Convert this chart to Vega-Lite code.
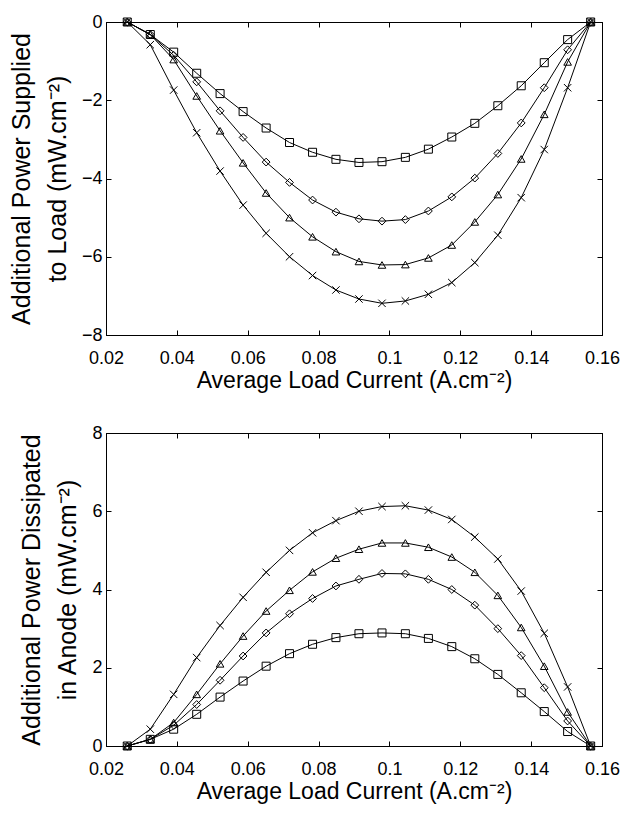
{
  "$schema": "https://vega.github.io/schema/vega-lite/v6.json",
  "padding": {"left": 8, "top": 12, "right": 5, "bottom": 5},
  "background": "white",
  "bounds": "flush",
  "spacing": 98,
  "config": {
    "font": "Liberation Sans",
    "view": {"stroke": "black", "strokeWidth": 1},
    "axis": {
      "labelFont": "Liberation Sans", "labelFontSize": 18, "labelColor": "black",
      "titleFont": "Liberation Sans", "titleFontWeight": "normal", "titleColor": "black",
      "tickColor": "black", "domainColor": "black", "grid": false,
      "tickSize": -5, "labelPadding": 19, "labelFlush": false, "labelOverlap": false
    },
    "axisY": {"labelPadding": 9}
  },
  "datasets": {
    "top": [
      {"s":"sq","x":0.0260,"y":0},{"s":"sq","x":0.0325,"y":-0.32},{"s":"sq","x":0.0391,"y":-0.77},{"s":"sq","x":0.0456,"y":-1.31},{"s":"sq","x":0.0522,"y":-1.83},{"s":"sq","x":0.0587,"y":-2.29},{"s":"sq","x":0.0652,"y":-2.71},{"s":"sq","x":0.0718,"y":-3.08},{"s":"sq","x":0.0783,"y":-3.33},{"s":"sq","x":0.0849,"y":-3.51},{"s":"sq","x":0.0914,"y":-3.59},{"s":"sq","x":0.0979,"y":-3.57},{"s":"sq","x":0.1045,"y":-3.46},{"s":"sq","x":0.1110,"y":-3.25},{"s":"sq","x":0.1176,"y":-2.94},{"s":"sq","x":0.1241,"y":-2.59},{"s":"sq","x":0.1306,"y":-2.14},{"s":"sq","x":0.1372,"y":-1.63},{"s":"sq","x":0.1437,"y":-1.04},{"s":"sq","x":0.1503,"y":-0.45},{"s":"sq","x":0.1568,"y":0},
      {"s":"di","x":0.0260,"y":0},{"s":"di","x":0.0325,"y":-0.32},{"s":"di","x":0.0391,"y":-0.85},{"s":"di","x":0.0456,"y":-1.53},{"s":"di","x":0.0522,"y":-2.27},{"s":"di","x":0.0587,"y":-2.95},{"s":"di","x":0.0652,"y":-3.58},{"s":"di","x":0.0718,"y":-4.10},{"s":"di","x":0.0783,"y":-4.55},{"s":"di","x":0.0849,"y":-4.86},{"s":"di","x":0.0914,"y":-5.03},{"s":"di","x":0.0979,"y":-5.09},{"s":"di","x":0.1045,"y":-5.05},{"s":"di","x":0.1110,"y":-4.83},{"s":"di","x":0.1176,"y":-4.47},{"s":"di","x":0.1241,"y":-3.99},{"s":"di","x":0.1306,"y":-3.36},{"s":"di","x":0.1372,"y":-2.58},{"s":"di","x":0.1437,"y":-1.68},{"s":"di","x":0.1503,"y":-0.71},{"s":"di","x":0.1568,"y":0},
      {"s":"tr","x":0.0260,"y":0},{"s":"tr","x":0.0325,"y":-0.32},{"s":"tr","x":0.0391,"y":-0.96},{"s":"tr","x":0.0456,"y":-1.89},{"s":"tr","x":0.0522,"y":-2.78},{"s":"tr","x":0.0587,"y":-3.60},{"s":"tr","x":0.0652,"y":-4.37},{"s":"tr","x":0.0718,"y":-5.00},{"s":"tr","x":0.0783,"y":-5.49},{"s":"tr","x":0.0849,"y":-5.87},{"s":"tr","x":0.0914,"y":-6.12},{"s":"tr","x":0.0979,"y":-6.21},{"s":"tr","x":0.1045,"y":-6.20},{"s":"tr","x":0.1110,"y":-6.03},{"s":"tr","x":0.1176,"y":-5.70},{"s":"tr","x":0.1241,"y":-5.11},{"s":"tr","x":0.1306,"y":-4.41},{"s":"tr","x":0.1372,"y":-3.50},{"s":"tr","x":0.1437,"y":-2.36},{"s":"tr","x":0.1503,"y":-1.02},{"s":"tr","x":0.1568,"y":0},
      {"s":"xx","x":0.0260,"y":0},{"s":"xx","x":0.0325,"y":-0.58},{"s":"xx","x":0.0391,"y":-1.74},{"s":"xx","x":0.0456,"y":-2.83},{"s":"xx","x":0.0522,"y":-3.81},{"s":"xx","x":0.0587,"y":-4.68},{"s":"xx","x":0.0652,"y":-5.40},{"s":"xx","x":0.0718,"y":-6.00},{"s":"xx","x":0.0783,"y":-6.48},{"s":"xx","x":0.0849,"y":-6.85},{"s":"xx","x":0.0914,"y":-7.08},{"s":"xx","x":0.0979,"y":-7.19},{"s":"xx","x":0.1045,"y":-7.13},{"s":"xx","x":0.1110,"y":-6.96},{"s":"xx","x":0.1176,"y":-6.66},{"s":"xx","x":0.1241,"y":-6.15},{"s":"xx","x":0.1306,"y":-5.45},{"s":"xx","x":0.1372,"y":-4.49},{"s":"xx","x":0.1437,"y":-3.26},{"s":"xx","x":0.1503,"y":-1.68},{"s":"xx","x":0.1568,"y":0}
    ],
    "bottom": [
      {"s":"sq","x":0.0260,"y":0},{"s":"sq","x":0.0325,"y":0.17},{"s":"sq","x":0.0391,"y":0.43},{"s":"sq","x":0.0456,"y":0.81},{"s":"sq","x":0.0522,"y":1.25},{"s":"sq","x":0.0587,"y":1.66},{"s":"sq","x":0.0652,"y":2.04},{"s":"sq","x":0.0718,"y":2.36},{"s":"sq","x":0.0783,"y":2.60},{"s":"sq","x":0.0849,"y":2.77},{"s":"sq","x":0.0914,"y":2.87},{"s":"sq","x":0.0979,"y":2.89},{"s":"sq","x":0.1045,"y":2.87},{"s":"sq","x":0.1110,"y":2.75},{"s":"sq","x":0.1176,"y":2.54},{"s":"sq","x":0.1241,"y":2.23},{"s":"sq","x":0.1306,"y":1.83},{"s":"sq","x":0.1372,"y":1.36},{"s":"sq","x":0.1437,"y":0.88},{"s":"sq","x":0.1503,"y":0.37},{"s":"sq","x":0.1568,"y":0},
      {"s":"di","x":0.0260,"y":0},{"s":"di","x":0.0325,"y":0.17},{"s":"di","x":0.0391,"y":0.53},{"s":"di","x":0.0456,"y":1.06},{"s":"di","x":0.0522,"y":1.68},{"s":"di","x":0.0587,"y":2.30},{"s":"di","x":0.0652,"y":2.89},{"s":"di","x":0.0718,"y":3.38},{"s":"di","x":0.0783,"y":3.77},{"s":"di","x":0.0849,"y":4.09},{"s":"di","x":0.0914,"y":4.26},{"s":"di","x":0.0979,"y":4.41},{"s":"di","x":0.1045,"y":4.40},{"s":"di","x":0.1110,"y":4.26},{"s":"di","x":0.1176,"y":4.00},{"s":"di","x":0.1241,"y":3.60},{"s":"di","x":0.1306,"y":3.00},{"s":"di","x":0.1372,"y":2.31},{"s":"di","x":0.1437,"y":1.49},{"s":"di","x":0.1503,"y":0.64},{"s":"di","x":0.1568,"y":0},
      {"s":"tr","x":0.0260,"y":0},{"s":"tr","x":0.0325,"y":0.17},{"s":"tr","x":0.0391,"y":0.60},{"s":"tr","x":0.0456,"y":1.32},{"s":"tr","x":0.0522,"y":2.10},{"s":"tr","x":0.0587,"y":2.81},{"s":"tr","x":0.0652,"y":3.45},{"s":"tr","x":0.0718,"y":3.98},{"s":"tr","x":0.0783,"y":4.45},{"s":"tr","x":0.0849,"y":4.80},{"s":"tr","x":0.0914,"y":5.03},{"s":"tr","x":0.0979,"y":5.19},{"s":"tr","x":0.1045,"y":5.19},{"s":"tr","x":0.1110,"y":5.08},{"s":"tr","x":0.1176,"y":4.83},{"s":"tr","x":0.1241,"y":4.44},{"s":"tr","x":0.1306,"y":3.85},{"s":"tr","x":0.1372,"y":3.03},{"s":"tr","x":0.1437,"y":2.04},{"s":"tr","x":0.1503,"y":0.87},{"s":"tr","x":0.1568,"y":0},
      {"s":"xx","x":0.0260,"y":0},{"s":"xx","x":0.0325,"y":0.43},{"s":"xx","x":0.0391,"y":1.32},{"s":"xx","x":0.0456,"y":2.26},{"s":"xx","x":0.0522,"y":3.08},{"s":"xx","x":0.0587,"y":3.80},{"s":"xx","x":0.0652,"y":4.44},{"s":"xx","x":0.0718,"y":5.00},{"s":"xx","x":0.0783,"y":5.45},{"s":"xx","x":0.0849,"y":5.76},{"s":"xx","x":0.0914,"y":6.00},{"s":"xx","x":0.0979,"y":6.12},{"s":"xx","x":0.1045,"y":6.14},{"s":"xx","x":0.1110,"y":6.03},{"s":"xx","x":0.1176,"y":5.79},{"s":"xx","x":0.1241,"y":5.34},{"s":"xx","x":0.1306,"y":4.78},{"s":"xx","x":0.1372,"y":3.96},{"s":"xx","x":0.1437,"y":2.88},{"s":"xx","x":0.1503,"y":1.51},{"s":"xx","x":0.1568,"y":0}
    ]
  },
  "vconcat": [
    {
      "width": 496, "height": 313,
      "data": {"name": "top"},
      "resolve": {"axis": {"x": "independent", "y": "independent"}},
      "layer": [
        {
          "mark": {"type": "line", "color": "black", "strokeWidth": 1},
          "encoding": {
            "x": {"field": "x", "type": "quantitative", "scale": {"domain": [0.02, 0.16], "nice": false, "zero": false},
                  "axis": {"values": [0.02,0.04,0.06,0.08,0.1,0.12,0.14,0.16], "format": "~g", "title": "Average Load Current (A.cm⁻²)", "titleFontSize": 23, "titlePadding": 2}},
            "y": {"field": "y", "type": "quantitative", "scale": {"domain": [-8, 0], "nice": false, "zero": false},
                  "axis": {"values": [-8,-6,-4,-2,0], "format": "~g", "title": ["Additional Power Supplied", "to Load (mW.cm⁻²)"], "titleFontSize": 25, "titleLineHeight": 36, "titlePadding": 11}},
            "detail": {"field": "s"}
          }
        },
        {
          "mark": {"type": "point", "filled": false, "color": "black", "strokeWidth": 1, "opacity": 1},
          "encoding": {
            "x": {"field": "x", "type": "quantitative", "axis": {"orient": "top", "values": [0.02,0.04,0.06,0.08,0.1,0.12,0.14,0.16], "labels": false, "title": null}},
            "y": {"field": "y", "type": "quantitative", "axis": {"orient": "right", "values": [-8,-6,-4,-2,0], "labels": false, "title": null}},
            "shape": {"field": "s", "type": "nominal", "legend": null, "scale": {"domain": ["sq","di","tr","xx"], "range": ["square","diamond","triangle-up","M-1,-1L1,1M-1,1L1,-1"]}},
            "size": {"field": "s", "type": "nominal", "legend": null, "scale": {"domain": ["sq","di","tr","xx"], "range": [64, 55, 70, 16]}}
          }
        }
      ]
    },
    {
      "width": 496, "height": 313,
      "data": {"name": "bottom"},
      "resolve": {"axis": {"x": "independent", "y": "independent"}},
      "layer": [
        {
          "mark": {"type": "line", "color": "black", "strokeWidth": 1},
          "encoding": {
            "x": {"field": "x", "type": "quantitative", "scale": {"domain": [0.02, 0.16], "nice": false, "zero": false},
                  "axis": {"values": [0.02,0.04,0.06,0.08,0.1,0.12,0.14,0.16], "format": "~g", "title": "Average Load Current (A.cm⁻²)", "titleFontSize": 23, "titlePadding": 2}},
            "y": {"field": "y", "type": "quantitative", "scale": {"domain": [0, 8], "nice": false, "zero": false},
                  "axis": {"values": [0,2,4,6,8], "format": "~g", "title": ["Additional Power Dissipated", "in Anode (mW.cm⁻²)"], "titleFontSize": 25, "titleLineHeight": 36, "titlePadding": 11}},
            "detail": {"field": "s"}
          }
        },
        {
          "mark": {"type": "point", "filled": false, "color": "black", "strokeWidth": 1, "opacity": 1},
          "encoding": {
            "x": {"field": "x", "type": "quantitative", "axis": {"orient": "top", "values": [0.02,0.04,0.06,0.08,0.1,0.12,0.14,0.16], "labels": false, "title": null}},
            "y": {"field": "y", "type": "quantitative", "axis": {"orient": "right", "values": [0,2,4,6,8], "labels": false, "title": null}},
            "shape": {"field": "s", "type": "nominal", "legend": null, "scale": {"domain": ["sq","di","tr","xx"], "range": ["square","diamond","triangle-up","M-1,-1L1,1M-1,1L1,-1"]}},
            "size": {"field": "s", "type": "nominal", "legend": null, "scale": {"domain": ["sq","di","tr","xx"], "range": [64, 55, 70, 16]}}
          }
        }
      ]
    }
  ]
}
